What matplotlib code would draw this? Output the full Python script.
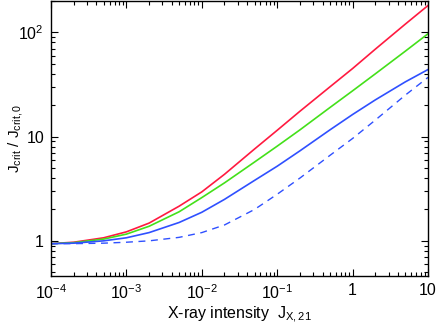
import matplotlib
matplotlib.use("Agg")
import matplotlib.pyplot as plt
from matplotlib.ticker import FixedLocator, LogLocator, NullFormatter

plt.rcParams["font.family"] = ["Liberation Sans", "DejaVu Sans"]
plt.rcParams["mathtext.fontset"] = "custom"
plt.rcParams["mathtext.rm"] = "Liberation Sans"
plt.rcParams["mathtext.it"] = "Liberation Sans:italic"

# X-ray intensity J_X,21
jx = [1e-4, 2e-4, 5e-4, 1e-3, 2e-3, 5e-3, 1e-2, 2e-2, 5e-2,
      0.1, 0.2, 0.5, 1, 2, 5, 10]

# Jcrit / Jcrit,0
red = [0.94, 0.97, 1.07, 1.22, 1.48, 2.15, 2.95, 4.35, 7.6,
       11.5, 17.5, 30, 45, 69, 120, 181]
green = [0.94, 0.96, 1.04, 1.16, 1.38, 1.9, 2.6, 3.6, 5.7,
         8.1, 11.6, 19, 27.5, 40, 66, 97]
blue = [0.94, 0.95, 1.0, 1.07, 1.2, 1.5, 1.88, 2.5, 3.8,
        5.2, 7.3, 11.6, 16.3, 22.5, 33.5, 44]
blue_dash = [0.94, 0.94, 0.95, 0.97, 1.0, 1.08, 1.2, 1.42, 2.0,
             2.8, 4.0, 6.6, 9.6, 14.4, 25, 37]

xticks = [1e-4, 1e-3, 1e-2, 1e-1, 1, 10]
xticklabels = [r"10$^{-4}$", r"10$^{-3}$", r"10$^{-2}$", r"10$^{-1}$", "1", "10"]
yticks = [1, 10, 100]
yticklabels = ["1", "10", r"10$^{2}$"]

fig = plt.figure(figsize=(4.36, 3.27), dpi=100)
ax = fig.add_axes([51 / 436, 51 / 327, 377 / 436, 275 / 327])

ax.plot(jx, red, color="#ff1a40", lw=1.2)
ax.plot(jx, green, color="#44e01a", lw=1.2)
ax.plot(jx, blue, color="#2f50ff", lw=1.2)
ax.plot(jx, blue_dash, color="#2f50ff", lw=1.0, ls=(0, (5, 4)))

ax.set_xscale("log")
ax.set_yscale("log")
ax.set_xlim(1e-4, 10)
ax.set_ylim(0.46, 200)

ax.xaxis.set_major_locator(FixedLocator(xticks))
ax.set_xticklabels(xticklabels)
ax.yaxis.set_major_locator(FixedLocator(yticks))
ax.set_yticklabels(yticklabels)
for a in (ax.xaxis, ax.yaxis):
    a.set_minor_locator(LogLocator(base=10, subs=range(2, 10), numticks=20))
    a.set_minor_formatter(NullFormatter())

ax.tick_params(which="both", direction="in", top=True, right=True, labelsize=11.5, width=0.8)
ax.tick_params(which="major", length=5, pad=5)
ax.tick_params(which="minor", length=3)
for s in ax.spines.values():
    s.set_linewidth(1.0)

ax.set_xlabel(r"X-ray intensity  J$_{\mathrm{X,21}}$", fontsize=11.5, labelpad=2)
ax.set_ylabel(r"J$_{\mathrm{crit}}$ / J$_{\mathrm{crit,0}}$", fontsize=11)
ax.yaxis.set_label_coords(-0.068, 0.5)

fig.savefig("out.png", dpi=100)
